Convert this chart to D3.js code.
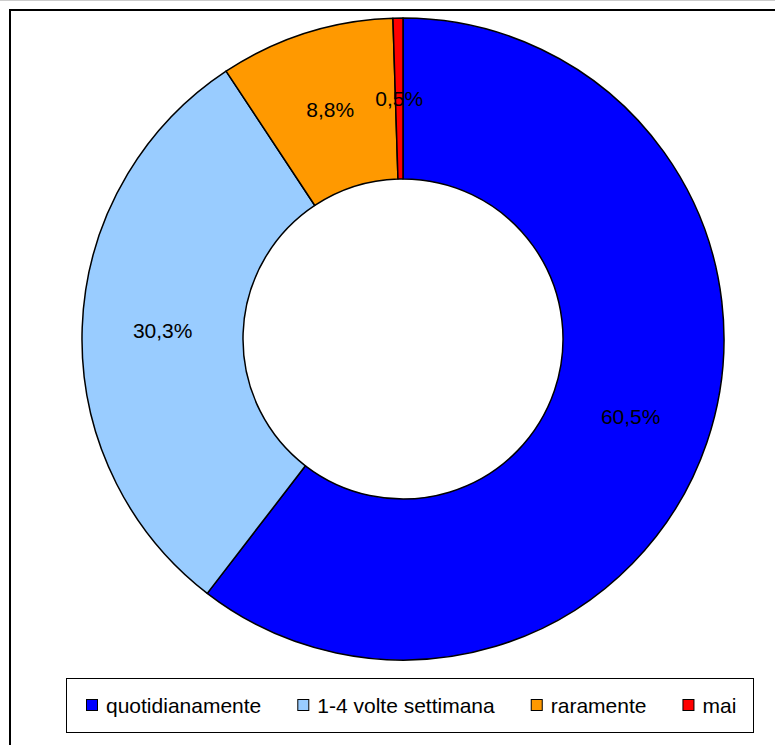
<!DOCTYPE html>
<html>
<head>
<meta charset="utf-8">
<script src="https://cdn.jsdelivr.net/npm/d3@7"></script>
<style>
  body { margin: 0; background: #fff; }
  text { font-family: "Liberation Sans", Arial, sans-serif; }
</style>
</head>
<body>
<div id="chart"></div>
<script>
let categories = ['quotidianamente', '1-4 volte settimana', 'raramente', 'mai'];
let values     = [60.5, 30.3, 8.8, 0.5];
let labels     = ['60,5%', '30,3%', '8,8%', '0,5%'];
let colors     = ['#0000FF', '#99CCFF', '#FF9900', '#FF0000'];

let chart_width  = 775;
let chart_height = 745;
let cx = 403, cy = 339;
let outer_r = 321, inner_r = 160;

let data = categories.map((c, i) => ({ name: c, value: values[i], label: labels[i], color: colors[i] }));

//svg
let svg = d3.select('#chart')
  .append('svg')
  .attr('width', chart_width)
  .attr('height', chart_height);

//outer frame
svg.append('line')
  .attr('x1', 0).attr('x2', chart_width)
  .attr('y1', 0.5).attr('y2', 0.5)
  .attr('stroke', '#ccc');

svg.append('rect')
  .attr('x', 10).attr('y', 10)
  .attr('width', 900).attr('height', 900)
  .attr('fill', 'none')
  .attr('stroke', '#000')
  .attr('stroke-width', 2);

//donut
let pie = d3.pie()
  .value(d => d.value)
  .sort(null);

let arc = d3.arc()
  .innerRadius(inner_r)
  .outerRadius(outer_r);

let g = svg.append('g')
  .attr('transform', 'translate(' + cx + ',' + cy + ')');

let arcs = pie(data);

g.selectAll('path')
  .data(arcs)
  .enter()
  .append('path')
  .attr('d', arc)
  .attr('fill', d => d.data.color)
  .attr('stroke', '#000')
  .attr('stroke-width', 1.5)
  .attr('stroke-linejoin', 'round');

//labels
g.selectAll('text')
  .data(arcs)
  .enter()
  .append('text')
  .text(d => d.data.label)
  .attr('x', d => arc.centroid(d)[0])
  .attr('y', d => arc.centroid(d)[1])
  .attr('dy', '0.36em')
  .attr('text-anchor', 'middle')
  .attr('font-size', 21)
  .attr('fill', '#000');

//legend
let legend = svg.append('g');

legend.append('rect')
  .attr('x', 66.5).attr('y', 678.5)
  .attr('width', 687).attr('height', 54)
  .attr('fill', '#fff')
  .attr('stroke', '#000')
  .attr('stroke-width', 1);

let lx = 86;
data.forEach(d => {
  legend.append('rect')
    .attr('x', lx + 0.5).attr('y', 699.5)
    .attr('width', 11).attr('height', 11)
    .attr('fill', d.color)
    .attr('stroke', '#000')
    .attr('stroke-width', 1);
  let t = legend.append('text')
    .text(d.name)
    .attr('x', lx + 20)
    .attr('y', 713)
    .attr('font-size', 21)
    .attr('fill', '#000');
  lx = lx + 20 + t.node().getComputedTextLength() + 36;
});
</script>
</body>
</html>
